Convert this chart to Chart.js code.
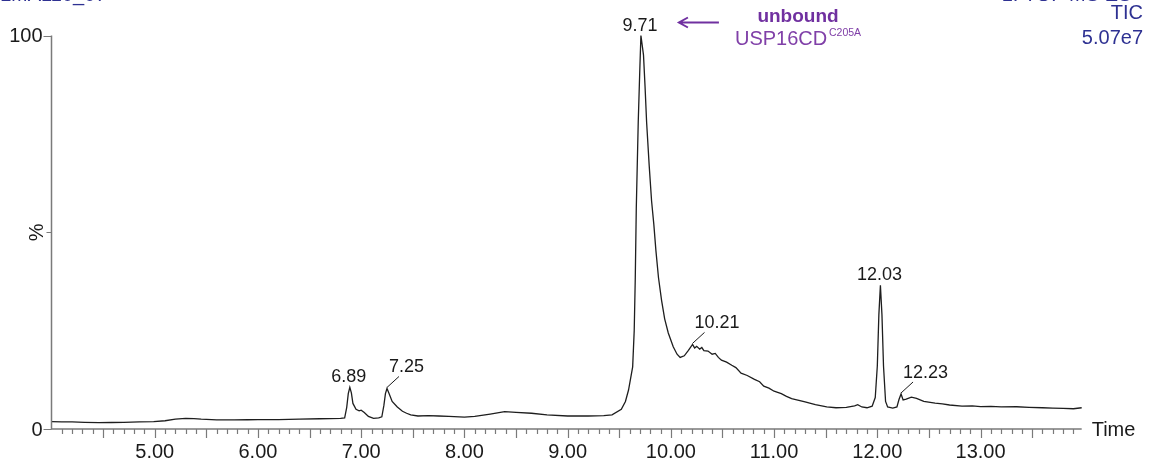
<!DOCTYPE html>
<html>
<head>
<meta charset="utf-8">
<title>TIC</title>
<script src="https://cdn.jsdelivr.net/npm/chart.js@4.4.1/dist/chart.umd.min.js"></script>
<style>
    html, body { margin: 0; padding: 0; background: #ffffff; }
    #wrap { position: relative; width: 1150px; height: 466px; }
</style>
</head>
<body>
<div id="wrap"><canvas id="ticChart"></canvas></div>
<script>
// Retention time (min) and relative intensity (%) of the total ion current trace
const rt = [
    4.00, 4.10, 4.20, 4.32, 4.46, 4.58, 4.70, 4.85, 4.99, 5.10, 5.20, 5.30, 5.38, 5.45, 5.60, 5.77,
    5.90, 6.00, 6.20, 6.40, 6.60, 6.80, 6.84, 6.86, 6.875, 6.89, 6.905, 6.92, 6.95, 6.98, 7.00,
    7.03, 7.07, 7.12, 7.17, 7.20, 7.22, 7.235, 7.25, 7.27, 7.30, 7.35, 7.40, 7.44, 7.48, 7.55,
    7.65, 7.75, 7.85, 8.00, 8.10, 8.25, 8.39, 8.50, 8.65, 8.80, 9.00, 9.20, 9.35, 9.43, 9.52,
    9.56, 9.59, 9.63, 9.645, 9.655, 9.665, 9.684, 9.70, 9.71, 9.735, 9.75, 9.765, 9.79, 9.813,
    9.835, 9.855, 9.88, 9.91, 9.94, 9.975, 10.023, 10.06, 10.09, 10.13, 10.17, 10.21, 10.23,
    10.25, 10.28, 10.30, 10.32, 10.36, 10.40, 10.43, 10.46, 10.49, 10.54, 10.59, 10.63, 10.68,
    10.74, 10.81, 10.86, 10.90, 10.95, 11.00, 11.07, 11.12, 11.17, 11.24, 11.30, 11.40, 11.51,
    11.60, 11.70, 11.78, 11.81, 11.85, 11.90, 11.95, 11.98, 12.00, 12.015, 12.03, 12.045, 12.06,
    12.08, 12.10, 12.15, 12.19, 12.21, 12.23, 12.25, 12.28, 12.33, 12.38, 12.45, 12.56, 12.63,
    12.70, 12.82, 12.92, 13.00, 13.10, 13.20, 13.35, 13.47, 13.60, 13.70, 13.80, 13.90, 13.98
];
const tic = [
    1.85, 1.80, 1.80, 1.70, 1.60, 1.65, 1.70, 1.80, 1.85, 2.10, 2.50, 2.70, 2.65, 2.50, 2.30, 2.30,
    2.35, 2.40, 2.40, 2.50, 2.60, 2.70, 2.80, 5.50, 9.00, 10.6, 9.20, 6.50, 5.00, 4.60, 4.80,
    4.20, 3.20, 2.70, 2.80, 3.10, 6.00, 9.00, 10.3, 9.00, 7.00, 5.60, 4.50, 4.00, 3.60, 3.30,
    3.40, 3.30, 3.20, 3.00, 3.20, 3.80, 4.40, 4.20, 4.00, 3.60, 3.30, 3.30, 3.40, 3.60, 5.00,
    7.00, 9.90, 15.8, 25.0, 38.0, 56.0, 78.0, 92.0, 100, 95.0, 87.0, 78.0, 67.0, 58.0,
    52.0, 45.4, 38.5, 32.7, 28.0, 24.4, 20.9, 19.0, 18.2, 18.6, 20.0, 21.5, 20.6,
    21.0, 20.3, 20.7, 19.9, 19.8, 19.0, 19.2, 18.2, 17.5, 17.0, 16.2, 15.6, 14.2,
    13.6, 12.6, 12.0, 10.9, 10.4, 9.60, 9.00, 8.30, 7.70, 7.30, 6.90, 6.20, 5.60,
    5.40, 5.50, 5.90, 6.20, 5.60, 5.40, 5.80, 8.00, 16.0, 29.0, 36.5, 29.0, 16.0,
    7.00, 5.60, 5.30, 5.60, 7.50, 8.90, 7.40, 7.60, 8.10, 7.80, 7.00, 6.60, 6.40,
    6.10, 5.80, 5.90, 5.70, 5.75, 5.60, 5.65, 5.50, 5.40, 5.30, 5.25, 5.15, 5.40
];

// Labelled peaks; the ones in leaderPeaks get a short pointer line
const peakRt = [6.89, 7.25, 9.71, 10.21, 12.03, 12.23];
const leaderPeaks = [7.25, 10.21, 12.23];

// Axis labels
const xTickValues = [5, 6, 7, 8, 9, 10, 11, 12, 13];
const xTickLabels = ['5.00', '6.00', '7.00', '8.00', '9.00', '10.00', '11.00', '12.00', '13.00'];
const yTickValues = [0, 100];
const yTickLabels = ['0', '100'];

const FONT = '"Liberation Sans", Arial, sans-serif';
const AXIS_GREY = '#7a7a7a';
const PURPLE = '#7030a0';
const HEADER_BLUE = '#2e3192';

document.addEventListener('DOMContentLoaded', function() {
    initTicChart();
});

function valueAt(t) {
    const i = rt.indexOf(t);
    return i >= 0 ? tic[i] : 0;
}

// Axes, tick marks, peak labels and header text drawn on top of the trace
const overlayPlugin = {
    id: 'overlay',
    afterDraw(chart) {
        const ctx = chart.ctx;
        const x = chart.scales.x;
        const y = chart.scales.y;
        const area = chart.chartArea;
        const y0 = y.getPixelForValue(0);

        ctx.save();

        // axis lines
        ctx.strokeStyle = AXIS_GREY;
        ctx.lineWidth = 1.5;
        ctx.beginPath();
        ctx.moveTo(area.left, y.getPixelForValue(100));
        ctx.lineTo(area.left, y0);
        ctx.lineTo(area.right, y0);
        ctx.stroke();

        // x ticks: minor every 0.1, longer every 0.5
        ctx.lineWidth = 1.2;
        ctx.beginPath();
        for (let k = 41; k < 140; k++) {
            const px = Math.round(x.getPixelForValue(k / 10)) + 0.5;
            const len = k % 5 === 0 ? 9 : 5;
            ctx.moveTo(px, y0);
            ctx.lineTo(px, y0 + len);
        }
        // y ticks
        [0, 50, 100].forEach(v => {
            const py = Math.round(y.getPixelForValue(v)) + 0.5;
            ctx.moveTo(area.left, py);
            ctx.lineTo(area.left - (v === 50 ? 5 : 8), py);
        });
        ctx.stroke();

        // tick labels
        ctx.fillStyle = '#1a1a1a';
        ctx.font = '20px ' + FONT;
        ctx.textAlign = 'center';
        ctx.textBaseline = 'middle';
        xTickValues.forEach((v, i) => {
            ctx.fillText(xTickLabels[i], x.getPixelForValue(v), y0 + 23);
        });
        ctx.textAlign = 'right';
        yTickValues.forEach((v, i) => {
            ctx.fillText(yTickLabels[i], area.left - 9, y.getPixelForValue(v) + 1);
        });
        ctx.textAlign = 'left';
        ctx.fillText('Time', area.right + 10, y0 + 1);

        ctx.save();
        ctx.translate(37, y.getPixelForValue(50));
        ctx.rotate(-Math.PI / 2);
        ctx.textAlign = 'center';
        ctx.fillText('%', 0, 0);
        ctx.restore();

        // peak labels
        ctx.font = '18px ' + FONT;
        ctx.textBaseline = 'alphabetic';
        ctx.strokeStyle = '#1a1a1a';
        ctx.lineWidth = 1;
        peakRt.forEach(t => {
            const px = x.getPixelForValue(t);
            const py = y.getPixelForValue(valueAt(t));
            if (leaderPeaks.includes(t)) {
                const ex = px + 12, ey = py - 12;
                ctx.beginPath();
                ctx.moveTo(px, py - 1);
                ctx.lineTo(ex, ey);
                ctx.stroke();
                ctx.textAlign = 'left';
                ctx.fillText(t.toFixed(2), ex - 10, ey - 4);
            } else {
                ctx.textAlign = 'center';
                ctx.fillText(t.toFixed(2), px - 1, py - 5);
            }
        });

        // "unbound" annotation pointing at the main peak
        const mainX = x.getPixelForValue(9.71);
        const tipX = mainX + 38, ay = 22.5;
        ctx.strokeStyle = PURPLE;
        ctx.lineWidth = 2;
        ctx.beginPath();
        ctx.moveTo(tipX + 40, ay);
        ctx.lineTo(tipX, ay);
        ctx.moveTo(tipX + 9, ay - 5);
        ctx.lineTo(tipX, ay);
        ctx.lineTo(tipX + 9, ay + 5);
        ctx.stroke();

        ctx.fillStyle = PURPLE;
        ctx.textAlign = 'center';
        ctx.textBaseline = 'middle';
        ctx.font = 'bold 19px ' + FONT;
        ctx.fillText('unbound', 798, 17);
        ctx.font = '20px ' + FONT;
        ctx.textAlign = 'left';
        ctx.fillStyle = '#8040a8';
        ctx.fillText('USP16CD', 735, 39);
        ctx.font = '10.5px ' + FONT;
        ctx.fillText('C205A', 829, 33);

        // header (top line runs off the page)
        ctx.fillStyle = HEADER_BLUE;
        ctx.font = '20px ' + FONT;
        ctx.textAlign = 'right';
        ctx.textBaseline = 'alphabetic';
        ctx.fillText('1: TOF MS ES+', 1143, 0.5);
        ctx.fillText('TIC', 1143, 19);
        ctx.fillText('5.07e7', 1143, 44);
        ctx.textAlign = 'left';
        ctx.fillText('LMA110_07', 0, 0.5);

        ctx.restore();
    }
};

function initTicChart() {
    const ctx = document.getElementById('ticChart').getContext('2d');

    new Chart(ctx, {
        type: 'line',
        data: {
            datasets: [{
                data: rt.map((t, i) => ({ x: t, y: tic[i] })),
                borderColor: '#1e1e1e',
                borderWidth: 1.3,
                pointRadius: 0,
                tension: 0,
                fill: false,
                clip: false
            }]
        },
        options: {
            responsive: true,
            maintainAspectRatio: false,
            animation: false,
            events: [],
            layout: {
                padding: { left: 51.5, right: 68.3, top: 35.5, bottom: 37 }
            },
            plugins: {
                legend: { display: false },
                tooltip: { enabled: false }
            },
            scales: {
                x: { type: 'linear', min: 4.0, max: 13.98, display: false },
                y: { min: 0, max: 100, display: false }
            }
        },
        plugins: [overlayPlugin]
    });
}
</script>
</body>
</html>
